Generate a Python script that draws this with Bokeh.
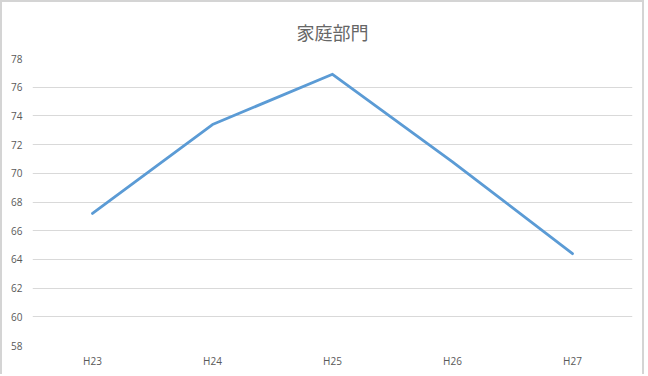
from bokeh.plotting import figure
from bokeh.models import FactorRange, Range1d, FixedTicker, Title
from bokeh.embed import file_html
from bokeh.resources import INLINE

# Household-sector values by fiscal year
years = ["H23", "H24", "H25", "H26", "H27"]
values = [67.2, 73.4, 76.9, 70.8, 64.4]
y_ticks = [58, 60, 62, 64, 66, 68, 70, 72, 74, 76, 78]

TEXT = "#595959"
GRID = "#d9d9d9"

p = figure(
    width=644, height=374,
    x_range=FactorRange(*years, range_padding=0),
    y_range=Range1d(58, 78),
    output_backend="svg", toolbar_location=None,
    min_border_left=30, min_border_right=14,
    min_border_top=56, min_border_bottom=31,
)
p.styles = {"border-left": "2px solid #d4d4d4",
            "border-right": "2px solid #d4d4d4",
            "border-top": "2px solid #d4d4d4"}

# Title centred on the whole canvas (shifted left of the frame centre)
p.title = Title(text="家庭部門", align="center", offset=-8,
                text_font="Noto Sans CJK JP",
                text_font_size="18px", text_font_style="normal",
                text_color="#666666", standoff=28)

p.line(years, values, line_color="#5b9bd5", line_width=2.8,
       line_join="round", line_cap="round")

p.outline_line_color = None
p.background_fill_color = "white"
p.border_fill_color = "white"

p.xgrid.grid_line_color = None
p.ygrid.grid_line_color = GRID
p.ygrid.grid_line_width = 1
p.yaxis.ticker = FixedTicker(ticks=y_ticks)

for ax in (p.xaxis, p.yaxis):
    ax.axis_line_color = None
    ax.major_tick_line_color = None
    ax.minor_tick_line_color = None
    ax.major_tick_out = 0
    ax.major_tick_in = 0
    ax.major_label_text_font = "Open Sans"
    ax.major_label_text_font_size = "10px"
    ax.major_label_text_color = TEXT

p.xaxis.major_label_standoff = 8
p.yaxis.major_label_standoff = 10

open("out.html", "w").write(file_html(p, INLINE))
